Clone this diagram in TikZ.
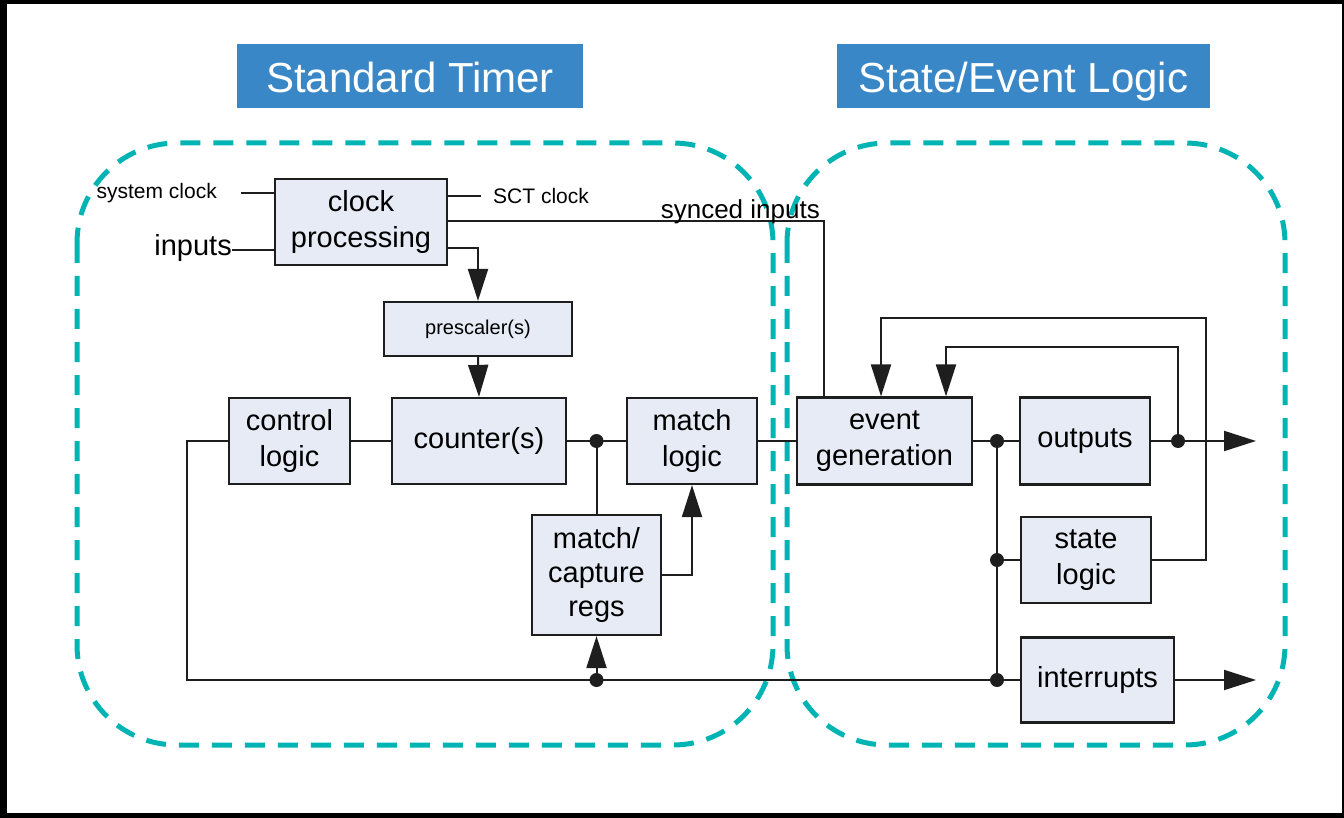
\documentclass[tikz,border=0pt]{standalone}
\usepackage{fontspec}
\setmainfont{Liberation Sans}
\usetikzlibrary{arrows.meta,calc}
\definecolor{blkfill}{RGB}{230,235,245}
\definecolor{titleblue}{RGB}{58,135,200}
\definecolor{teal}{RGB}{0,180,180}
\definecolor{wire}{RGB}{30,30,30}
\tikzset{
  blk/.style={draw=wire, line width=2.2pt, fill=blkfill, inner sep=0pt, align=center,
              font=\fontsize{29}{36}\selectfont},
  lab/.style={inner sep=0pt, font=\fontsize{21}{25}\selectfont},
  wireline/.style={draw=wire, line width=2pt},
  arr/.style={wireline, -{Triangle[length=32pt,width=20pt]}},
  dot/.style={circle, fill=wire, inner sep=0pt, minimum size=14pt},
  region/.style={draw=teal, line width=5pt, dash pattern=on 20pt off 13pt, rounded corners=100pt},
  titlebox/.style={fill=titleblue, text=white, inner sep=0pt, text height=34pt, text depth=0pt,
                   font=\fontsize{42}{48}\selectfont}
}
\begin{document}
\begin{tikzpicture}[x=1pt, y=-1pt]
\useasboundingbox (0,0) rectangle (1344,818);
\fill[white] (0,0) rectangle (1344,818);
% outer frame
\fill[black] (0,0) rectangle (7,818);
\fill[black] (0,0) rectangle (1344,4);
\fill[black] (0,813) rectangle (1344,818);
\fill[black] (1342,0) rectangle (1344,818);

% section titles
\node[titlebox, minimum width=346pt, minimum height=64pt] (t1) at (410,76) {Standard Timer};
\node[titlebox, minimum width=373pt, minimum height=64pt] (t2) at (1023.5,76) {State/Event Logic};

% dashed regions
\draw[region] (77,143) rectangle (773,745);
\draw[region] (787,143) rectangle (1285,745);

% blocks
\node[blk, minimum width=172pt, minimum height=86pt] (cp) at (361,222) {clock\\processing};
\node[blk, minimum width=188pt, minimum height=54pt, font=\fontsize{20}{24}\selectfont] (pre) at (478,329) {prescaler(s)};
\node[blk, minimum width=174pt, minimum height=86pt] (cnt) at (479,441) {counter(s)};
\node[blk, minimum width=121pt, minimum height=86pt] (ctl) at (289.5,441) {control\\logic};
\node[blk, minimum width=130pt, minimum height=86pt] (ml) at (692,441) {match\\logic};
\node[blk, minimum width=129pt, minimum height=120pt, font=\fontsize{29}{34}\selectfont] (rg) at (596.5,575) {match/\\capture\\regs};
\node[blk, minimum width=175pt, minimum height=87pt] (ev) at (884.5,441) {event\\generation};
\node[blk, minimum width=130pt, minimum height=87pt] (out) at (1085,441) {outputs};
\node[blk, minimum width=130pt, minimum height=86pt] (st) at (1086,560) {state\\logic};
\node[blk, minimum width=153pt, minimum height=85pt] (int) at (1097.5,680) {interrupts};

% clock processing inputs and outputs
\node[lab, anchor=east] (sclk) at (217,193) {system clock};
\coordinate (sclkin) at (241,193);
\draw[wireline] (sclkin) -- (sclkin -| cp.west);
\node[lab, anchor=east, font=\fontsize{29}{34}\selectfont] (inp) at (232,248) {inputs};
\draw[wireline] (inp.east |- 0,250) -- (cp.west |- 0,250);
\node[lab, anchor=west] (sct) at (493,196) {SCT clock};
\coordinate (sctout) at (481,196);
\draw[wireline] (sctout -| cp.east) -- (sctout);

% synced inputs
\coordinate (sy) at ($(ev.north west)+(28,0)$);
\draw[wireline] (cp.east |- 0,221) -| (sy);
\node[lab, anchor=south east, font=\fontsize{26}{30}\selectfont] (syl) at (820,224) {synced inputs};

% prescaler chain
\draw[arr] (cp.east |- 0,248) -| (pre.north);
\draw[arr] (pre.south) -- (cnt.north);

% standard timer connections
\draw[wireline] (ctl.east) -- (cnt.west);
\draw[wireline] (cnt.east) -- (ml.west);
\coordinate (d1) at (rg.north |- cnt.east);
\draw[wireline] (d1) -- (rg.north);
\draw[arr] (rg.east) -| (ml.south);
\draw[wireline] (ml.east) -- (ev.west);

% bottom bus
\coordinate (bl) at (187,680);
\coordinate (d2) at (rg.south |- bl);
\coordinate (d5) at (997,680);
\draw[wireline] (ctl.west) -| (bl) -- (int.west);
\draw[arr] (d2) -- (rg.south);

% event generation fan-out
\coordinate (d3) at (997,441);
\coordinate (d4) at (997,560);
\draw[wireline] (ev.east) -- (out.west);
\draw[wireline] (d3) -- (d5);
\draw[wireline] (d4) -- (st.west);

% outputs and feedback
\coordinate (d6) at (1178,441);
\coordinate (oend) at (1256,441);
\draw[arr] (out.east) -- (oend);
\coordinate (fb1) at (946,347);
\draw[arr] (d6) |- (fb1) -- (fb1 |- ev.north);
\coordinate (fb2) at (881,318);
\draw[arr] (st.east) -| (1206,318) -- (fb2) -- (fb2 |- ev.north);
\coordinate (iend) at (1256,680);
\draw[arr] (int.east) -- (iend);

% junction dots
\foreach \p in {d1,d2,d3,d4,d5,d6} \node[dot] at (\p) {};
\end{tikzpicture}
\end{document}
